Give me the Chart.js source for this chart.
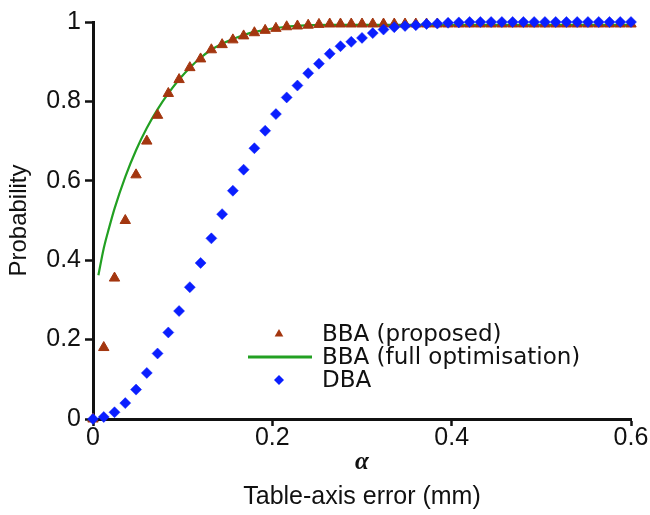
<!DOCTYPE html>
<html>
<head>
<meta charset="utf-8">
<script src="https://cdn.jsdelivr.net/npm/chart.js@4/dist/chart.umd.min.js"></script>
<style>
html,body{margin:0;padding:0;background:#ffffff;}
#wrap{width:650px;height:515px;position:relative;}
</style>
</head>
<body>
<div id="wrap"><canvas id="c" width="650" height="515"></canvas></div>
<script>
// ---- data ----
const alphaValues = [0, 0.012, 0.024, 0.036, 0.048, 0.06, 0.072, 0.084, 0.096, 0.108,
  0.12, 0.132, 0.144, 0.156, 0.168, 0.18, 0.192, 0.204, 0.216, 0.228,
  0.24, 0.252, 0.264, 0.276, 0.288, 0.3, 0.312, 0.324, 0.336, 0.348,
  0.36, 0.372, 0.384, 0.396, 0.408, 0.42, 0.432, 0.444, 0.456, 0.468,
  0.48, 0.492, 0.504, 0.516, 0.528, 0.54, 0.552, 0.564, 0.576, 0.588, 0.6];

const bbaProposed = [0, 0.18, 0.355, 0.5, 0.615, 0.7, 0.765, 0.82, 0.855, 0.885,
  0.907, 0.93, 0.943, 0.955, 0.965, 0.973, 0.979, 0.984, 0.988, 0.99,
  0.992, 0.994, 0.995, 0.995, 0.995, 0.995, 0.995, 0.995, 0.995, 0.995,
  0.995, 0.995, 0.995, 0.995, 0.995, 0.995, 0.995, 0.995, 0.995, 0.995,
  0.995, 0.995, 0.995, 0.995, 0.995, 0.995, 0.995, 0.995, 0.995, 0.995, 0.995];

const dbaValues = [0, 0.005, 0.017, 0.04, 0.074, 0.116, 0.165, 0.218, 0.272, 0.332,
  0.393, 0.455, 0.516, 0.575, 0.628, 0.682, 0.726, 0.768, 0.81, 0.84,
  0.871, 0.895, 0.92, 0.939, 0.95, 0.96, 0.972, 0.981, 0.987, 0.99,
  0.992, 0.995, 0.996, 0.998, 0.999, 1, 1, 1, 1, 1,
  1, 1, 1, 1, 1, 1, 1, 1, 1, 1, 1];

const fullOptAlpha = [0.006, 0.012, 0.018, 0.024, 0.036, 0.048, 0.06, 0.072, 0.084, 0.096,
  0.108, 0.12, 0.132, 0.144, 0.156, 0.168, 0.18, 0.192, 0.204, 0.216,
  0.228, 0.24, 0.264, 0.3, 0.6];
const fullOptValues = [0.362, 0.43, 0.482, 0.53, 0.61, 0.677, 0.733, 0.78, 0.82, 0.855,
  0.885, 0.91, 0.93, 0.945, 0.957, 0.967, 0.975, 0.98, 0.985, 0.988,
  0.99, 0.992, 0.993, 0.993, 0.993];

const xTicks = [0, 0.2, 0.4, 0.6];
const yTicks = [0, 0.2, 0.4, 0.6, 0.8, 1];
const seriesLabels = ['BBA (proposed)', 'BBA (full optimisation)', 'DBA'];
const xSymbol = 'α';
const xTitle = 'Table-axis error (mm)';
const yTitle = 'Probability';

// ---- styling ----
const BROWN = '#a3360f';
const GREEN = '#22a022';
const BLUE = '#0a1eff';
const INK = '#111111';
const SANS = '"Liberation Sans", Arial, sans-serif';

function pts(xs, ys) { return xs.map((x, i) => ({ x: x, y: ys[i] })); }

function drawMarker(ctx, style, x, y, r) {
  ctx.beginPath();
  if (style === 'triangle') {
    let rad = 0;
    ctx.moveTo(x + Math.sin(rad) * r, y - Math.cos(rad) * r);
    rad += 2 * Math.PI / 3;
    ctx.lineTo(x + Math.sin(rad) * r, y - Math.cos(rad) * r);
    rad += 2 * Math.PI / 3;
    ctx.lineTo(x + Math.sin(rad) * r, y - Math.cos(rad) * r);
  } else {
    ctx.moveTo(x - r, y);
    ctx.lineTo(x, y - r);
    ctx.lineTo(x + r, y);
    ctx.lineTo(x, y + r);
  }
  ctx.closePath();
  ctx.fill();
}

const innerLegend = {
  id: 'innerLegend',
  afterDatasetsDraw(chart) {
    const ctx = chart.ctx;
    const a = chart.chartArea;
    const xs = chart.scales.x;
    ctx.save();
    // alpha symbol above the axis title
    ctx.fillStyle = INK;
    ctx.font = 'bold italic 25px "Liberation Serif", serif';
    ctx.textAlign = 'center';
    ctx.textBaseline = 'alphabetic';
    ctx.fillText(xSymbol, (a.left + a.right) / 2, xs.bottom - 46);

    // legend inside the plot
    ctx.font = '23px "DejaVu Sans", sans-serif';
    ctx.textAlign = 'left';
    ctx.textBaseline = 'middle';
    const markerX = a.left + 186;
    const textX = a.left + 229;
    chart.data.datasets.forEach((d, row) => {
      const y = a.top + 312 + row * 23;
      if (d.showLine) {
        ctx.strokeStyle = d.borderColor;
        ctx.lineWidth = 3;
        ctx.beginPath();
        ctx.moveTo(a.left + 155, y);
        ctx.lineTo(a.left + 219, y);
        ctx.stroke();
      } else {
        ctx.fillStyle = d.backgroundColor;
        drawMarker(ctx, d.pointStyle, markerX, y, 5);
      }
      ctx.fillStyle = INK;
      ctx.fillText(d.label, textX, y + 1);
    });
    ctx.restore();
  }
};

new Chart(document.getElementById('c'), {
  type: 'scatter',
  data: {
    datasets: [
      {
        label: seriesLabels[0],
        data: pts(alphaValues, bbaProposed),
        pointStyle: 'triangle',
        pointRadius: 6,
        backgroundColor: BROWN,
        borderColor: BROWN,
        borderWidth: 1,
        showLine: false,
        clip: false,
        order: 1
      },
      {
        label: seriesLabels[1],
        data: pts(fullOptAlpha, fullOptValues),
        showLine: true,
        borderColor: GREEN,
        backgroundColor: GREEN,
        borderWidth: 2.2,
        pointRadius: 0,
        cubicInterpolationMode: 'monotone',
        fill: false,
        clip: false,
        order: 2
      },
      {
        label: seriesLabels[2],
        data: pts(alphaValues, dbaValues),
        pointStyle: 'rectRot',
        pointRadius: 5.5,
        backgroundColor: BLUE,
        borderColor: BLUE,
        borderWidth: 0.5,
        showLine: false,
        clip: false,
        order: 0
      }
    ]
  },
  options: {
    responsive: false,
    animation: false,
    devicePixelRatio: 1,
    layout: { padding: { top: 22, right: 19, left: 0, bottom: 0 } },
    plugins: {
      legend: { display: false },
      tooltip: { enabled: false }
    },
    scales: {
      x: {
        type: 'linear',
        min: 0,
        max: 0.6,
        afterBuildTicks: s => { s.ticks = xTicks.map(v => ({ value: v })); },
        afterFit: s => { s.height = 96; },
        grid: { drawOnChartArea: false, drawTicks: true, tickLength: 7, tickColor: INK, tickWidth: 2.5, color: INK },
        border: { display: true, color: INK, width: 3 },
        ticks: {
          color: INK,
          padding: 0,
          maxRotation: 0,
          font: { family: SANS, size: 25, lineHeight: 1 },
          callback: v => String(v)
        },
        title: {
          display: true,
          text: xTitle,
          color: INK,
          font: { family: SANS, size: 25, lineHeight: 1.2 },
          padding: { top: 0, bottom: 3 }
        }
      },
      y: {
        type: 'linear',
        min: 0,
        max: 1,
        afterBuildTicks: s => { s.ticks = yTicks.map(v => ({ value: v })); },
        afterFit: s => { s.width = 93; },
        grid: { drawOnChartArea: false, drawTicks: true, tickLength: 8, tickColor: INK, tickWidth: 2.5, color: INK },
        border: { display: true, color: INK, width: 3 },
        ticks: {
          color: INK,
          padding: 4,
          font: { family: SANS, size: 25, lineHeight: 1.2 },
          callback: v => String(v)
        },
        title: {
          display: true,
          text: yTitle,
          color: INK,
          font: { family: SANS, size: 24, lineHeight: 1.2 },
          padding: { top: 5, bottom: 0 }
        }
      }
    }
  },
  plugins: [innerLegend]
});
</script>
</body>
</html>
